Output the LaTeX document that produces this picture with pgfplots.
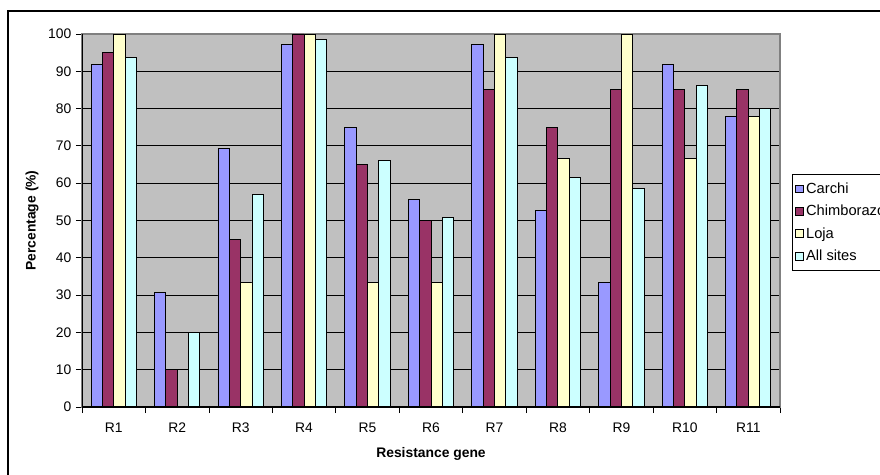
\documentclass[border=0pt]{standalone}
\usepackage{fontspec}
\setmainfont{Liberation Sans}
\usepackage{pgfplots}
\pgfplotsset{compat=1.18}

\definecolor{carchi}{HTML}{9999FF}
\definecolor{chimb}{HTML}{993366}
\definecolor{loja}{HTML}{FFFFCC}
\definecolor{allsites}{HTML}{CCFFFF}
\definecolor{plotgray}{HTML}{C0C0C0}

\begin{document}
\begin{tikzpicture}[font=\fontsize{10.4}{12}\selectfont]
% page frame; the chart border runs off the right and bottom edges
\path[use as bounding box, clip] (-61.5pt,-50.25pt) rectangle (598.5pt,305.25pt);
\draw[black, line width=0.8pt] (-55.5pt,297pt) rectangle (640pt,-90pt);
\begin{axis}[
  at={(0pt,0pt)}, anchor=south west,
  scale only axis, width=523.5pt, height=279.75pt,
  ybar=0pt, bar width=8.5pt,
  xmin=-0.5, xmax=10.5, ymin=0, ymax=100,
  xtick={-0.5,0.5,...,10.5},
  x tick label as interval,
  xticklabels={R1,R2,R3,R4,R5,R6,R7,R8,R9,R10,R11},
  ytick={0,10,...,100},
  /pgf/number format/assume math mode=true,
  tick align=outside, tick pos=left,
  major tick length=4.5pt,
  tick style={black, line width=0.6pt},
  ymajorgrids, grid style={black, line width=0.6pt},
  axis background/.style={fill=plotgray},
  axis line style={draw=black!50, line width=0.8pt},
  xlabel={\textbf{Resistance gene}},
  ylabel={\textbf{Percentage (\%)}},
  every axis x label/.style={at={(axis description cs:0.5,-0.126)}, anchor=center},
  every axis y label/.style={at={(axis description cs:-0.0716,0.5)}, anchor=center, rotate=90},
  xticklabel style={yshift=-4pt},
  legend style={at={(rel axis cs:1.0172,0.6247)}, anchor=north west,
    draw=black, fill=white, line width=0.6pt,
    font=\fontsize{11}{12}\selectfont, row sep=3.4pt,
    inner xsep=2pt, inner ysep=4pt},
  legend cell align=left,
  legend image code/.code={\draw[#1, draw=black, line width=0.5pt] (0pt,-2.9pt) rectangle (5.8pt,2.9pt);},
  every axis plot/.append style={draw=black, line width=0.7pt},
]
\addplot[fill=carchi] coordinates {
  (0,91.7) (1,30.6) (2,69.4) (3,97.2) (4,75) (5,55.6)
  (6,97.2) (7,52.8) (8,33.3) (9,91.7) (10,77.8)};
\addplot[fill=chimb] coordinates {
  (0,95) (1,10) (2,45) (3,100) (4,65) (5,50)
  (6,85) (7,75) (8,85) (9,85) (10,85)};
\addplot[fill=loja] coordinates {
  (0,100) (1,0) (2,33.3) (3,100) (4,33.3) (5,33.3)
  (6,100) (7,66.7) (8,100) (9,66.7) (10,77.8)};
\addplot[fill=allsites] coordinates {
  (0,93.8) (1,20) (2,57) (3,98.5) (4,66.2) (5,50.8)
  (6,93.8) (7,61.5) (8,58.5) (9,86.2) (10,80)};
\legend{Carchi,Chimborazo,Loja,All sites}
% dark value and category axes over the grey frame
\draw[black, line width=0.8pt] (rel axis cs:0,1) -- (rel axis cs:0,0) -- (rel axis cs:1,0);
\end{axis}
\end{tikzpicture}
\end{document}
